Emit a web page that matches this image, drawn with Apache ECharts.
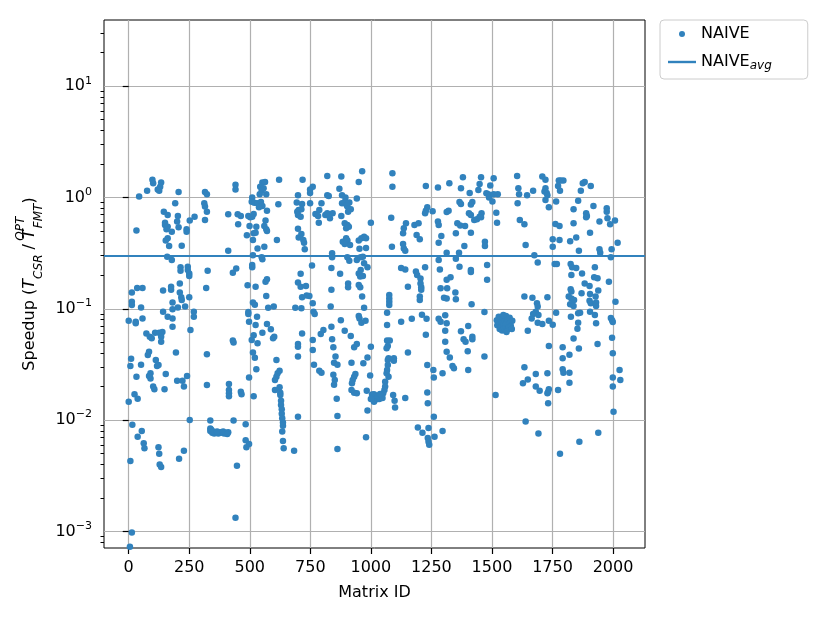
<!DOCTYPE html>
<html lang="en">
<head>
  <meta charset="UTF-8">
  <title>NAIVE speedup</title>
  <script src="https://cdn.jsdelivr.net/npm/echarts@6/dist/echarts.min.js"></script>
  <style>
    html, body { margin: 0; background: #fff; }
    #main { width: 830px; height: 623px; }
  </style>
</head>
<body>
  <div id="main"></div>
  <script>
    // [matrix id, speedup]
    const naivePoints = [
      [98,1.44],[101,1.34],[134,1.36],[130,1.25],[120,1.18],[126,1.15],[76,1.15],[206,1.12],[43,1.02],[192,0.886],
      [145,0.746],[161,0.697],[203,0.683],[272,0.673],[252,0.62],[200,0.607],[150,0.594],[150,0.566],[161,0.547],[156,0.518],
      [178,0.493],[206,0.54],[239,0.518],[239,0.493],[32,0.504],[161,0.43],[153,0.41],[167,0.367],[219,0.369],[159,0.294],
      [178,0.274],[214,0.236],[214,0.22],[244,0.239],[244,0.223],[250,0.208],[250,0.197],[35,0.154],[57,0.154],[13,0.14],
      [142,0.146],[175,0.158],[175,0.148],[211,0.169],[211,0.14],[217,0.127],[219,0.12],[250,0.127],[13,0.116],[13,0.108],
      [51,0.103],[181,0.114],[181,0.099],[203,0.103],[233,0.105],[142,0.094],[161,0.085],[181,0.082],[269,0.094],[269,0.085],
      [0,0.078],[29,0.0766],[29,0.074],[57,0.082],[181,0.069],[255,0.0645],[73,0.06],[87,0.056],[95,0.0543],[109,0.061],
      [126,0.061],[139,0.062],[134,0.056],[134,0.0507],[84,0.0412],[79,0.0385],[195,0.0404],[10,0.0356],
      [7,0.0306],[51,0.0315],[112,0.0347],[117,0.0306],[123,0.0313],[32,0.0245],[90,0.0263],[90,0.0237],[84,0.0249],[153,0.026],
      [101,0.02],[106,0.0189],[148,0.0189],[200,0.0226],[222,0.0226],[228,0.02],[241,0.0249],[24,0.0171],[37,0.0156],[0,0.0146],
      [252,0.01],[15,0.0091],[54,0.008],[37,0.0071],[62,0.0062],[65,0.0056],[123,0.0057],[126,0.005],[7,0.0043],[208,0.0045],
      [228,0.0053],[128,0.004],[134,0.0038],[13,0.00098],[5,0.00073],
      [441,1.3],[441,1.18],[315,1.12],[323,1.07],[552,1.36],[563,1.38],[543,1.25],[557,1.21],[549,1.15],[541,1.07],
      [568,1.07],[621,1.44],[312,0.886],[315,0.83],[323,0.746],[315,0.628],[510,1.0],[508,0.916],[519,0.899],[532,0.886],
      [546,0.91],[552,0.84],[538,0.817],[571,0.762],[618,0.869],[411,0.706],[450,0.706],[463,0.683],[494,0.683],[502,0.664],
      [510,0.673],[516,0.711],[565,0.62],[452,0.574],[499,0.555],[527,0.547],[560,0.555],[568,0.518],[571,0.5],[488,0.457],
      [516,0.476],[524,0.483],[513,0.415],[612,0.415],[532,0.349],[560,0.361],[411,0.333],[513,0.302],[549,0.29],[552,0.278],
      [510,0.247],[510,0.236],[444,0.23],[430,0.211],[326,0.22],[565,0.175],[571,0.184],[491,0.163],[524,0.158],[320,0.154],
      [568,0.13],[513,0.114],[521,0.109],[576,0.102],[599,0.105],[494,0.0935],[494,0.0897],[530,0.085],[497,0.0766],[524,0.0715],
      [571,0.073],[587,0.0654],[552,0.061],[601,0.056],[596,0.0543],[430,0.0518],[433,0.0497],[516,0.0578],[508,0.0525],[532,0.049],
      [323,0.039],[513,0.0404],[521,0.0364],[610,0.0347],
      [527,0.0286],[497,0.0242],[623,0.0278],[615,0.0263],[610,0.0245],[604,0.0229],[323,0.0207],[414,0.0211],[414,0.0186],[414,0.0174],
      [414,0.0164],[463,0.018],[466,0.0171],[516,0.0164],[604,0.0186],[623,0.0197],[626,0.0176],[626,0.0168],[629,0.0149],[629,0.0137],
      [632,0.0125],[632,0.0114],[634,0.0104],[637,0.0095],[637,0.0089],[634,0.0079],[637,0.0065],[640,0.0056],[337,0.0099],[433,0.0099],
      [483,0.0092],[337,0.008],[345,0.0077],[353,0.0076],[361,0.0077],[370,0.0076],[378,0.0078],[386,0.0077],[394,0.0076],[403,0.0077],
      [411,0.0078],[337,0.0084],[341,0.0082],[349,0.0079],[365,0.0079],[390,0.0079],[407,0.0075],[483,0.0066],[497,0.0061],[486,0.0057],
      [447,0.0039],[441,0.00133],
      [718,1.44],[820,1.56],[878,1.54],[964,1.72],[950,1.38],[870,1.2],[760,1.25],[749,1.18],[749,1.1],[699,1.05],
      [820,1.05],[826,1.03],[881,1.05],[895,1.0],[942,0.98],[694,0.9],[716,0.875],[749,0.886],[796,0.886],[881,0.886],
      [892,0.91],[900,0.857],[903,0.83],[911,0.9],[917,0.784],[906,0.746],[696,0.746],[702,0.772],[713,0.784],[699,0.697],
      [710,0.673],[771,0.711],[787,0.772],[782,0.683],[812,0.697],[820,0.721],[831,0.65],[842,0.721],[878,0.683],[785,0.594],
      [892,0.586],[903,0.566],[898,0.528],[909,0.547],[1000,0.594],[699,0.525],[702,0.438],[713,0.47],[721,0.415],[724,0.393],
      [727,0.342],[884,0.401],[898,0.43],[903,0.41],[914,0.374],[892,0.382],[950,0.41],[961,0.43],[972,0.445],[980,0.43],
      [953,0.347],[980,0.352],[840,0.315],[840,0.29],[903,0.29],[911,0.27],[942,0.274],[958,0.29],[967,0.294],[972,0.256],
      [986,0.236],[958,0.223],[950,0.208],[956,0.195],[967,0.197],[757,0.245],[837,0.233],[873,0.206],[710,0.206],[699,0.172],
      [710,0.158],[732,0.16],[716,0.127],[735,0.132],[746,0.13],[837,0.148],[906,0.169],[906,0.156],[950,0.164],[956,0.156],
      [964,0.129],[688,0.102],[713,0.101],[760,0.112],[763,0.094],[768,0.0897],[834,0.105],[972,0.102],[950,0.086],[953,0.082],
      [961,0.075],[978,0.078],[876,0.079],[716,0.06],[793,0.0594],[804,0.0645],[837,0.069],[892,0.0636],[917,0.057],[840,0.0532],
      [760,0.0525],[699,0.0483],[699,0.0457],[760,0.0427],[845,0.0451],[931,0.0451],[942,0.0483],[1000,0.0457],[699,0.0372],[854,0.0372],
      [986,0.0366],
      [765,0.0315],[787,0.0278],[796,0.0267],[848,0.0328],[862,0.0315],[920,0.0328],[969,0.0324],[845,0.0256],[851,0.0229],[848,0.0208],
      [936,0.026],[931,0.0245],[925,0.0229],[922,0.0214],[920,0.0186],[931,0.0176],[942,0.0174],[983,0.0184],[997,0.0252],[1013,0.0171],
      [1019,0.0162],[1024,0.0154],[1013,0.0146],[859,0.0156],[986,0.0122],[699,0.0107],[862,0.0109],[980,0.007],[683,0.0053],[862,0.0055],
      [1089,1.65],[1089,1.25],[1227,1.27],[1277,1.23],[1324,1.34],[1233,0.817],[1227,0.762],[1224,0.721],[1255,0.752],[1321,0.762],
      [1313,0.741],[1084,0.659],[1145,0.586],[1136,0.528],[1133,0.476],[1180,0.566],[1197,0.586],[1189,0.46],[1202,0.421],[1277,0.607],
      [1280,0.566],[1357,0.586],[1291,0.451],[1351,0.476],[1280,0.393],[1133,0.382],[1136,0.349],[1142,0.333],[1087,0.361],[1313,0.319],
      [1351,0.282],[1280,0.274],[1125,0.233],[1142,0.226],[1224,0.236],[1186,0.216],[1191,0.201],[1205,0.187],[1205,0.169],[1208,0.156],
      [1208,0.148],[1202,0.129],[1202,0.12],[1285,0.226],[1329,0.192],[1313,0.182],[1315,0.153],[1288,0.153],[1349,0.14],[1302,0.126],
      [1313,0.124],[1351,0.122],[1153,0.158],[1076,0.133],[1076,0.124],[1076,0.116],[1076,0.108],[1067,0.0923],[1067,0.0715],[1125,0.0766],
      [1169,0.0815],[1211,0.0885],[1230,0.0815],[1227,0.0586],[1280,0.0815],[1288,0.0766],[1307,0.0873],[1313,0.074],[1307,0.0636],[1307,0.0507],
      [1313,0.0412],[1326,0.0366],[1067,0.0518],[1078,0.0518],[1070,0.0464],[1065,0.0442],[1073,0.0359],[1095,0.0359],[1153,0.0404],
      [1337,0.0306],[1343,0.0292],[1233,0.0313],[1258,0.0282],[1260,0.0242],[1296,0.0263],[1070,0.0347],[1070,0.0313],[1095,0.0342],[1067,0.0282],
      [1065,0.0263],[1073,0.0245],[1059,0.0221],[1059,0.02],[1056,0.0186],[1051,0.0174],[1040,0.0164],[1026,0.0162],[1012,0.0168],[1012,0.0151],
      [1031,0.0157],[1092,0.0168],[1098,0.0149],[1100,0.013],[1142,0.0158],[1233,0.0177],[1235,0.0142],[1260,0.0107],[1194,0.0086],[1213,0.0077],
      [1238,0.0085],[1263,0.0071],[1296,0.008],[1235,0.0069],[1238,0.0064],[1241,0.006],
      [1020,0.0158],[1035,0.0155],[1045,0.017],[1005,0.017],[1000,0.0155],[1028,0.0165],[1048,0.0158],[1038,0.0172],
      [1380,1.52],[1455,1.52],[1507,1.49],[1604,1.56],[1708,1.54],[1372,1.21],[1408,1.1],[1444,1.17],[1449,1.32],[1493,1.28],
      [1477,1.09],[1485,1.07],[1488,1.0],[1507,1.07],[1524,1.07],[1502,0.918],[1609,1.21],[1612,1.07],[1645,1.05],[1670,1.15],
      [1717,1.13],[1366,0.912],[1372,0.875],[1419,0.912],[1413,0.863],[1606,0.886],[1405,0.721],[1413,0.697],[1427,0.628],[1438,0.637],
      [1449,0.673],[1457,0.721],[1455,0.664],[1518,0.731],[1521,0.594],[1615,0.628],[1634,0.574],[1389,0.555],[1413,0.483],[1369,0.56],
      [1471,0.401],[1471,0.367],[1386,0.367],[1639,0.374],[1675,0.302],[1689,0.26],[1364,0.319],[1366,0.239],[1413,0.223],[1413,0.214],
      [1480,0.247],[1480,0.182],[1634,0.129],[1667,0.126],[1686,0.112],[1689,0.105],[1681,0.094],[1670,0.0897],[1692,0.0879],[1664,0.082],
      [1689,0.075],[1708,0.073],[1648,0.0636],[1416,0.11],[1469,0.0935],[1402,0.07],[1372,0.0628],[1383,0.0532],[1391,0.0507],[1419,0.0562],
      [1419,0.0532],[1400,0.0415],[1469,0.0372],
      [1520,0.079],[1522,0.071],[1528,0.085],[1530,0.074],[1532,0.066],[1535,0.08],[1538,0.069],[1540,0.076],[1542,0.064],[1545,0.083],
      [1548,0.072],[1550,0.067],[1553,0.078],[1556,0.07],[1558,0.086],[1560,0.074],[1563,0.065],[1566,0.08],[1568,0.072],[1570,0.068],
      [1573,0.083],[1576,0.075],[1578,0.07],[1582,0.066],[1584,0.078],[1560,0.062],[1547,0.088],
      [1402,0.0282],[1634,0.0298],[1681,0.026],[1648,0.0232],[1628,0.0214],[1681,0.02],[1697,0.0184],[1515,0.0168],[1639,0.0097],[1692,0.0076],
      [1721,1.44],[1721,1.21],[1726,1.1],[1729,1.05],[1721,0.95],[1776,1.42],[1784,1.42],[1795,1.42],[1773,1.27],[1781,1.15],
      [1867,1.15],[1875,1.34],[1883,1.38],[1908,1.27],[1765,0.918],[1856,0.937],[1735,0.817],[1837,0.784],[1889,0.721],[1892,0.683],
      [1889,0.664],[1919,0.84],[1974,0.8],[1974,0.746],[1944,0.607],[1977,0.65],[1988,0.574],[2008,0.62],[1762,0.578],[1779,0.555],
      [1837,0.586],[1905,0.483],[1848,0.438],[1823,0.404],[1779,0.415],[1751,0.421],[1751,0.361],[1859,0.333],[1944,0.342],[1947,0.319],
      [1994,0.342],[2019,0.393],[1991,0.29],[1759,0.252],[1768,0.252],[1825,0.252],[1831,0.236],[1848,0.232],[1828,0.201],[1872,0.208],
      [1925,0.236],[1922,0.192],[1936,0.188],[1883,0.169],[1903,0.16],[1983,0.175],[1939,0.146],[1825,0.15],[1828,0.143],[1817,0.129],
      [1828,0.124],[1839,0.12],[1870,0.138],[1905,0.136],[1928,0.129],[1903,0.118],[1908,0.112],[1930,0.114],[1930,0.106],[2010,0.116],
      [1729,0.127],[1823,0.11],[1837,0.106],[1856,0.091],[1864,0.0923],[1826,0.085],[1765,0.0923],[1905,0.094],[1925,0.088],[1991,0.0826],
      [1996,0.079],[1856,0.075],[1930,0.074],[1999,0.076],[1853,0.0662],[1735,0.078],[1751,0.072],[1837,0.054],[1936,0.0483],[1996,0.055],
      [1735,0.0464],[1792,0.0451],[1859,0.0439],[1820,0.0387],[1792,0.0359],[1999,0.0398],
      [1729,0.0263],[1792,0.0286],[1795,0.0267],[1820,0.0267],[1820,0.0217],[1773,0.0186],[1735,0.0189],[1732,0.0179],[1729,0.0174],[1732,0.0142],
      [2027,0.0282],[2030,0.0229],[1999,0.0242],[1999,0.02],[2002,0.0119],[1939,0.0077],[1861,0.0064],[1781,0.005]
    ];
    const naiveAvg = 0.304;

    const xTicks = [0, 250, 500, 750, 1000, 1250, 1500, 1750, 2000];
    const yTicks = [0.001, 0.01, 0.1, 1, 10];
    // minor ticks 2..9 x 10^n on the log axis
    const yMinorTicks = [];
    [0.0001, 0.001, 0.01, 0.1, 1, 10].forEach(d => {
      for (let k = 2; k <= 9; k++) yMinorTicks.push(+(k * d).toPrecision(3));
    });

    const blue = '#3182bd';
    const font = 'DejaVu Sans';
    const fs = 16;
    const supMinus = e => (e < 0 ? '\u2212' + (-e) : '' + e);

    const chart = echarts.init(document.getElementById('main'));
    chart.setOption({
      animation: false,
      textStyle: { fontFamily: font },
      grid: {
        left: 104, right: 185, top: 20, bottom: 75,
        show: true, borderColor: '#000', borderWidth: 1
      },
      legend: {
        orient: 'vertical', left: 660, top: 20,
        padding: [5, 36, 7, 8], itemGap: 9,
        itemWidth: 28, itemHeight: 6,
        borderColor: '#cccccc', borderWidth: 1, borderRadius: 4,
        data: [
          { name: 'NAIVE', icon: 'circle' },
          { name: 'NAIVEavg', icon: 'path://M0,0H28V2.4H0Z' }
        ],
        formatter: n => (n === 'NAIVEavg' ? 'NAIVE{sub|avg}' : n),
        textStyle: {
          fontSize: fs, color: '#000', lineHeight: 18,
          rich: { sub: { fontSize: 12, fontStyle: 'italic', verticalAlign: 'bottom', lineHeight: 20 } }
        }
      },
      xAxis: {
        type: 'value', min: -102, max: 2132,
        name: 'Matrix ID', nameLocation: 'middle', nameGap: 37,
        nameTextStyle: { fontSize: fs, color: '#000' },
        axisLine: { show: false },
        axisTick: { customValues: xTicks, length: 6, lineStyle: { color: '#000', width: 1.2 } },
        axisLabel: { customValues: xTicks, color: '#000', fontSize: fs, margin: 12, formatter: v => String(v) },
        splitLine: { show: true, lineStyle: { color: '#b0b0b0', width: 1.2 } }
      },
      yAxis: [{
        type: 'log', min: 0.00071, max: 39.3,
        name: 'Speedup ({it|T}{sub|CSR} / {it|T}{sup|OPT}{sub|FMT})',
        nameLocation: 'middle', nameGap: 54, nameRotate: 90,
        nameTextStyle: {
          fontSize: fs, color: '#000', lineHeight: 30,
          rich: {
            it: { fontSize: fs, fontStyle: 'italic', lineHeight: 30 },
            sub: { fontSize: 12, fontStyle: 'italic', verticalAlign: 'bottom', lineHeight: 30 },
            sup: { fontSize: 12, fontStyle: 'italic', verticalAlign: 'top', lineHeight: 30, width: 1 }
          }
        },
        axisLine: { show: false },
        axisTick: { customValues: yTicks, length: 6, lineStyle: { color: '#000', width: 1.2 } },
        axisLabel: {
          customValues: yTicks, color: '#000', fontSize: fs, margin: 12,
          formatter: v => '10{sup|' + supMinus(Math.round(Math.log10(v))) + '}',
          rich: { sup: { fontSize: 11, verticalAlign: 'top', lineHeight: 22 } }
        },
        splitLine: { show: true, lineStyle: { color: '#b0b0b0', width: 1.2 } }
      }, {
        type: 'log', min: 0.00071, max: 39.3, position: 'left',
        axisLine: { show: false },
        axisLabel: { show: false },
        axisTick: { customValues: yMinorTicks, length: 3.5, lineStyle: { color: '#000', width: 1 } },
        splitLine: { show: false }
      }],
      series: [{
        name: 'NAIVE', type: 'scatter', data: naivePoints,
        symbolSize: 6.5, itemStyle: { color: blue, opacity: 1 }
      }, {
        name: 'NAIVEavg', type: 'line', data: [], symbol: 'none',
        itemStyle: { color: blue }, lineStyle: { color: blue, width: 2 },
        markLine: {
          silent: true, symbol: 'none', label: { show: false },
          lineStyle: { color: blue, width: 2.2, type: 'solid' },
          data: [{ yAxis: naiveAvg }]
        }
      }]
    });
  </script>
</body>
</html>
